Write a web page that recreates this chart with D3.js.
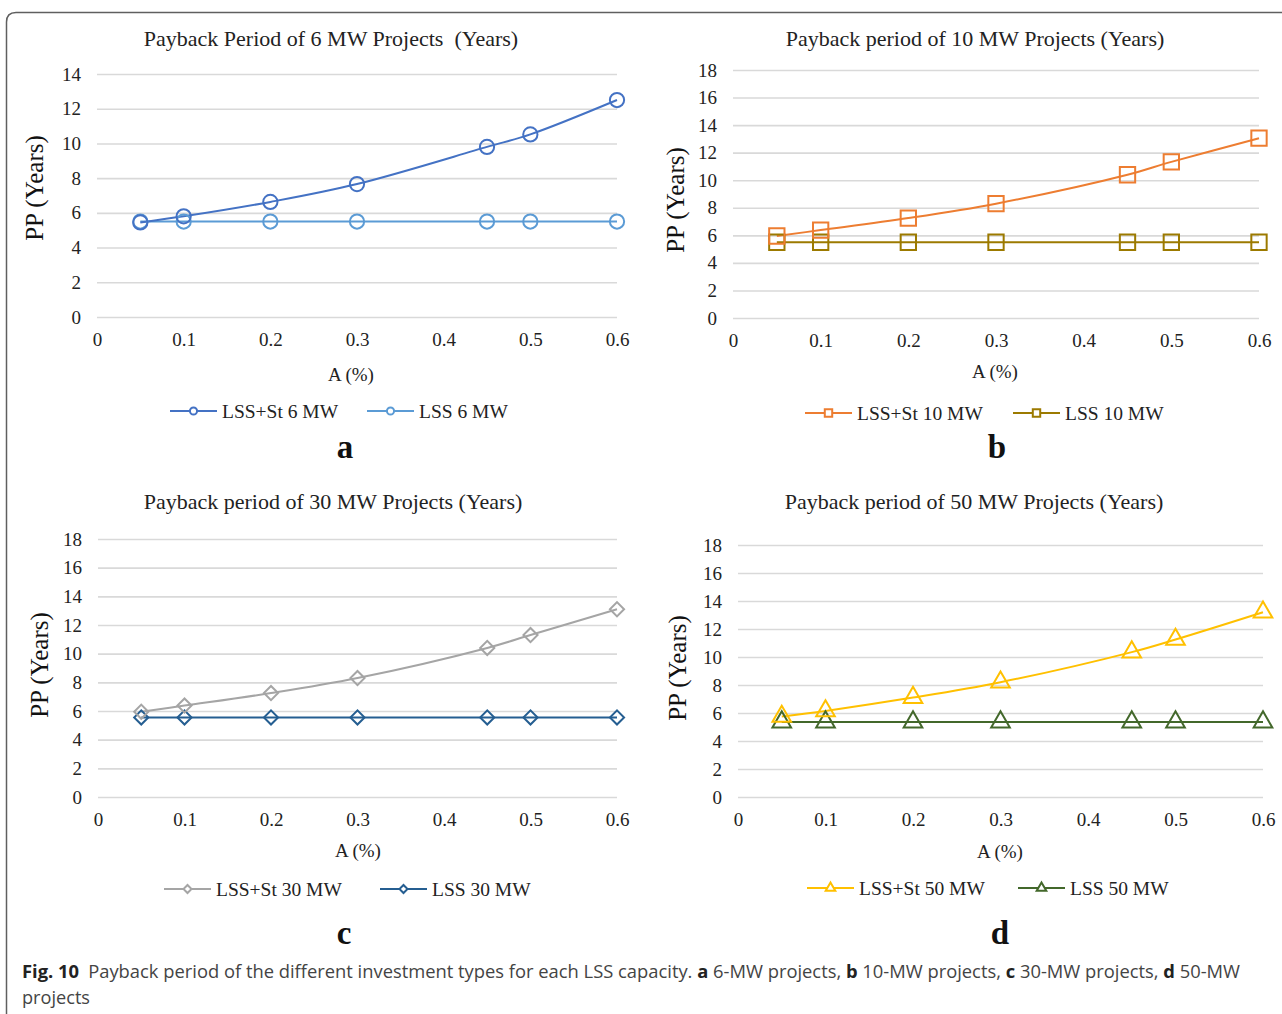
<!DOCTYPE html>
<html>
<head>
<meta charset="utf-8">
<script src="https://cdn.jsdelivr.net/npm/d3@7"></script>
<style>
  html, body { margin: 0; padding: 0; background: #fff; }
  svg { display: block; }
</style>
</head>
<body>
<svg id="chart" width="1282" height="1014"></svg>
<script>
// ---------------- DATA ----------------
const xValues = [0.05, 0.1, 0.2, 0.3, 0.45, 0.5, 0.6];
const xTickValues = [0, 0.1, 0.2, 0.3, 0.4, 0.5, 0.6];
const xTickLabels = ["0", "0.1", "0.2", "0.3", "0.4", "0.5", "0.6"];
const yTicksA = [0, 2, 4, 6, 8, 10, 12, 14];
const yTicksBCD = [0, 2, 4, 6, 8, 10, 12, 14, 16, 18];

const panelTitles = [
  "Payback Period of 6 MW Projects\u00a0\u00a0(Years)",
  "Payback period of 10 MW Projects (Years)",
  "Payback period of 30 MW Projects (Years)",
  "Payback period of 50 MW Projects (Years)"
];
const panelLetters = ["a", "b", "c", "d"];
const seriesNames = [
  ["LSS+St 6 MW", "LSS 6 MW"],
  ["LSS+St 10 MW", "LSS 10 MW"],
  ["LSS+St 30 MW", "LSS 30 MW"],
  ["LSS+St 50 MW", "LSS 50 MW"]
];

const lssSt6  = [5.45, 5.8, 6.63, 7.66, 9.8, 10.52, 12.5];
const lss6    = [5.5, 5.5, 5.5, 5.5, 5.5, 5.5, 5.5];
const lssSt10 = [5.95, 6.38, 7.25, 8.3, 10.4, 11.33, 13.05];
const lss10   = [5.5, 5.5, 5.5, 5.5, 5.5, 5.5, 5.5];
const lssSt30 = [5.95, 6.38, 7.25, 8.3, 10.4, 11.3, 13.1];
const lss30   = [5.55, 5.55, 5.55, 5.55, 5.55, 5.55, 5.55];
const lssSt50 = [5.75, 6.15, 7.1, 8.2, 10.35, 11.25, 13.2];
const lss50   = [5.35, 5.35, 5.35, 5.35, 5.35, 5.35, 5.35];

const captionParts = [
  ["Fig. 10", true], ["\u2002Payback period of the different investment types for each LSS capacity. ", false],
  ["a", true], [" 6-MW projects, ", false], ["b", true], [" 10-MW projects, ", false],
  ["c", true], [" 30-MW projects, ", false], ["d", true], [" 50-MW", false]
];
const captionLine2 = "projects";

// ---------------- LAYOUT / STYLE ----------------
const serif = "'Liberation Serif', 'Times New Roman', serif";
const panels = [
  { title: panelTitles[0], letter: panelLetters[0], names: seriesNames[0], series: [lssSt6, lss6],
    colors: ["#4472C4", "#5B9BD5"], marker: "circle", yMax: 14, yTicks: yTicksA,
    x0: 97, x1: 617, y0: 317, y1: 74, titleX: 331, titleY: 46, yTitleX: 43, yTitleY: 188,
    xTitleX: 351, xTitleY: 381, legY: 411, leg1: 170, leg2: 367, letterX: 345, letterY: 458 },
  { title: panelTitles[1], letter: panelLetters[1], names: seriesNames[1], series: [lssSt10, lss10],
    colors: ["#ED7D31", "#9C7A00"], marker: "square", yMax: 18, yTicks: yTicksBCD,
    x0: 733, x1: 1259, y0: 318, y1: 70, titleX: 975, titleY: 46, yTitleX: 684, yTitleY: 200,
    xTitleX: 995, xTitleY: 378, legY: 413, leg1: 805, leg2: 1013, letterX: 997, letterY: 458 },
  { title: panelTitles[2], letter: panelLetters[2], names: seriesNames[2], series: [lssSt30, lss30],
    colors: ["#A5A5A5", "#255E91"], marker: "diamond", yMax: 18, yTicks: yTicksBCD,
    x0: 98, x1: 617, y0: 797, y1: 539, titleX: 333, titleY: 509, yTitleX: 48, yTitleY: 665,
    xTitleX: 358, xTitleY: 857, legY: 889, leg1: 164, leg2: 380, letterX: 344, letterY: 944 },
  { title: panelTitles[3], letter: panelLetters[3], names: seriesNames[3], series: [lssSt50, lss50],
    colors: ["#FFC000", "#43682B"], marker: "triangle", yMax: 18, yTicks: yTicksBCD,
    x0: 738, x1: 1263, y0: 797, y1: 545, titleX: 974, titleY: 509, yTitleX: 686, yTitleY: 668,
    xTitleX: 1000, xTitleY: 858, legY: 888, leg1: 807, leg2: 1018, letterX: 1000, letterY: 944 }
];

const svg = d3.select("#chart");

// outer frame with rounded top-left corner
svg.append("path")
  .attr("d", "M6.5,1014 L6.5,22 Q6.5,12.5 16,12.5 L1282,12.5")
  .attr("fill", "none").attr("stroke", "#5f5f5f").attr("stroke-width", 1.5);

function markerPath(type, big) {
  if (type === "circle") return d3.symbol(d3.symbolCircle, big ? 160 : 40)();
  if (type === "square") return d3.symbol(d3.symbolSquare, big ? 235 : 55)();
  if (type === "diamond") return d3.symbol(d3.symbolSquare, big ? 100 : 32)();
  return d3.symbol(d3.symbolTriangle, big ? 150 : 40)();
}

panels.forEach(p => {
  const g = svg.append("g");
  const x = d3.scaleLinear().domain([0, 0.6]).range([p.x0, p.x1]);
  const y = d3.scaleLinear().domain([0, p.yMax]).range([p.y0, p.y1]);

  // y grid + labels
  const yAxis = d3.axisLeft(y).tickValues(p.yTicks).tickSize(-(p.x1 - p.x0)).tickPadding(16).tickFormat(d3.format("d"));
  const ya = g.append("g").attr("transform", `translate(${p.x0},0)`).call(yAxis);
  ya.select(".domain").remove();
  ya.selectAll(".tick line").attr("stroke", "#d9d9d9").attr("stroke-width", 1.6);
  ya.selectAll(".tick text").attr("font-family", serif).attr("font-size", 19).attr("fill", "#222");

  // x labels
  const xAxis = d3.axisBottom(x).tickValues(xTickValues).tickSize(0).tickPadding(16)
    .tickFormat((d, i) => xTickLabels[i]);
  const xa = g.append("g").attr("transform", `translate(0,${p.y0})`).call(xAxis);
  xa.select(".domain").remove();
  xa.selectAll(".tick text").attr("font-family", serif).attr("font-size", 19).attr("fill", "#222");

  // title
  g.append("text").attr("x", p.titleX).attr("y", p.titleY).attr("text-anchor", "middle")
    .attr("font-family", serif).attr("font-size", 22).attr("fill", "#222").text(p.title);
  // y title
  g.append("text").attr("transform", `translate(${p.yTitleX},${p.yTitleY}) rotate(-90)`)
    .attr("text-anchor", "middle").attr("font-family", serif).attr("font-size", 25).attr("fill", "#111")
    .text("PP (Years)");
  // x title
  g.append("text").attr("x", p.xTitleX).attr("y", p.xTitleY).attr("text-anchor", "middle")
    .attr("font-family", serif).attr("font-size", 19).attr("fill", "#222").text("A (%)");

  // series
  const line = d3.line().x((d, i) => x(xValues[i])).y(d => y(d)).curve(d3.curveCatmullRom);
  const order = [1, 0];
  order.forEach(si => {
    const vals = p.series[si];
    g.append("path").datum(vals).attr("d", line).attr("fill", "none")
      .attr("stroke", p.colors[si]).attr("stroke-width", 2);
  });
  order.forEach(si => {
    const vals = p.series[si];
    g.selectAll(null).data(vals).enter().append("path")
      .attr("d", markerPath(p.marker, true))
      .attr("transform", (d, i) => `translate(${x(xValues[i])},${y(d)})` + (p.marker === "diamond" ? " rotate(45)" : ""))
      .attr("fill", "none").attr("stroke", p.colors[si]).attr("stroke-width", 2);
  });

  // legend
  [p.leg1, p.leg2].forEach((lx, si) => {
    g.append("line").attr("x1", lx).attr("x2", lx + 47).attr("y1", p.legY).attr("y2", p.legY)
      .attr("stroke", p.colors[si]).attr("stroke-width", 2);
    g.append("path").attr("d", markerPath(p.marker, false))
      .attr("transform", `translate(${lx + 23.5},${p.legY})` + (p.marker === "diamond" ? " rotate(45)" : ""))
      .attr("fill", "#fff").attr("stroke", p.colors[si]).attr("stroke-width", 2);
    g.append("text").attr("x", lx + 52).attr("y", p.legY + 7)
      .attr("font-family", serif).attr("font-size", 19.5).attr("fill", "#222").text(p.names[si]);
  });

  // panel letter
  g.append("text").attr("x", p.letterX).attr("y", p.letterY).attr("text-anchor", "middle")
    .attr("font-family", serif).attr("font-weight", "bold").attr("font-size", 33).attr("fill", "#111")
    .text(p.letter);
});

// caption
const sans = "'Open Sans', 'Noto Sans', sans-serif";
const cap = svg.append("text").attr("x", 22).attr("y", 978)
  .attr("font-family", sans).attr("font-size", 17.5).attr("fill", "#333")
  .attr("textLength", 1218).attr("lengthAdjust", "spacingAndGlyphs");
captionParts.forEach(([t, b]) => {
  cap.append("tspan").attr("font-weight", b ? "bold" : "normal").attr("fill", b ? "#222" : "#444").text(t);
});
svg.append("text").attr("x", 22).attr("y", 1004).attr("font-family", sans).attr("font-size", 17.5)
  .attr("fill", "#444").attr("textLength", 68).attr("lengthAdjust", "spacingAndGlyphs").text(captionLine2);
</script>
</body>
</html>
